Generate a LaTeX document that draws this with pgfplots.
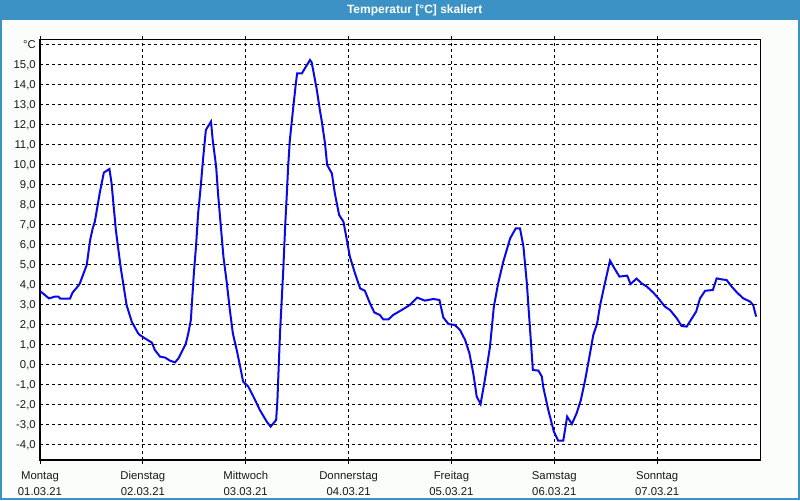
\documentclass[border=0pt]{standalone}
\usepackage{pgfplots}
\pgfplotsset{compat=1.18}
\usepackage{fontspec}
\setmainfont{Liberation Sans}
\definecolor{titlebar}{RGB}{60,146,196}
\definecolor{curve}{RGB}{10,10,230}
\definecolor{winbg}{RGB}{251,253,251}
\begin{document}
\begin{tikzpicture}
\useasboundingbox (0,0) rectangle (600pt,375pt);
\fill[winbg] (0,0) rectangle (600pt,360pt);
\fill[titlebar] (0,360pt) rectangle (600pt,375pt);
\draw[titlebar, line width=1.2pt] (0.6pt,360pt) -- (0.6pt,0.6pt) -- (599.4pt,0.6pt) -- (599.4pt,360pt);
\node[text=white, font=\fontsize{9}{10}\selectfont\bfseries] at (311pt,367.5pt) {Temperatur [°C] skaliert};
\begin{axis}[
  at={(30pt,30pt)}, anchor=south west,
  scale only axis, width=540pt, height=315pt,
  xmin=0, xmax=168, ymin=-4.75, ymax=16.25,
  axis line style={black, line width=0.75pt},
  axis background/.style={fill=white},
  xtick={0,24,48,72,96,120,144},
  xticklabels={{Montag\\01.03.21},{Dienstag\\02.03.21},{Mittwoch\\03.03.21},{Donnerstag\\04.03.21},{Freitag\\05.03.21},{Samstag\\06.03.21},{Sonntag\\07.03.21}},
  ytick={-4,-3,...,16},
  yticklabels={{-4,0},{-3,0},{-2,0},{-1,0},{0,0},{1,0},{2,0},{3,0},{4,0},{5,0},{6,0},{7,0},{8,0},{9,0},{10,0},{11,0},{12,0},{13,0},{14,0},{15,0},{°C}},
  tick label style={font=\fontsize{8.5}{12}\selectfont, text=black!90},
  xticklabel style={align=center, inner sep=0pt, yshift=-5.5pt},
  yticklabel style={inner sep=0pt, xshift=-3pt},
  x tick style={black, line width=0.6pt, dash pattern=on 2pt off 1.5pt},
  xtick align=outside, major tick length=3pt,
  ytick style={draw=none},
  xmajorgrids, ymajorgrids,
  major grid style={black, line width=0.75pt, dash pattern=on 2.6pt off 1.9pt},
  clip=true,
]
\addplot[curve, line width=1.5pt] coordinates {
(0,3.70) (2.1,3.33) (3.5,3.42) (4.3,3.42) (4.7,3.32) (7.0,3.32) (7.6,3.62) (8.9,3.95) (9.3,4.08)
(10.9,5.00) (11.7,6.25) (12.3,6.83) (12.8,7.17) (14.0,8.67) (14.9,9.62) (16.2,9.80) (16.7,9.08)
(17.7,6.75) (18.3,5.75) (18.8,4.92) (20.2,3.00) (21.4,2.17) (22.9,1.58) (23.3,1.50) (24.5,1.33)
(26.1,1.12) (26.8,0.75) (28.0,0.42) (29.2,0.37) (30.3,0.22) (31.5,0.13) (32.3,0.33) (33.1,0.67)
(34.0,1.05) (34.6,1.58) (35.2,2.25) (35.4,2.92) (35.9,4.58) (36.4,5.92) (36.9,7.58) (37.5,8.92)
(38.1,10.42) (38.7,11.75) (39.9,12.17) (40.3,11.25) (41.1,9.92) (41.6,8.42) (42.2,6.92) (42.8,5.42)
(43.6,4.08) (44.3,2.75) (45.0,1.58) (45.9,0.75) (46.7,-0.08) (47.4,-0.83) (48.6,-1.08) (49.8,-1.58)
(51.3,-2.25) (52.9,-2.83) (53.8,-3.08) (55.1,-2.75) (55.4,-1.75) (55.7,-0.08) (56.0,1.58) (56.4,3.25)
(56.8,4.92) (57.2,6.92) (57.6,8.58) (57.9,9.92) (58.3,11.25) (59.1,12.90) (59.7,14.08) (60.0,14.58)
(61.1,14.58) (61.8,14.83) (63.0,15.25) (63.4,15.12) (63.8,14.67) (64.6,13.75) (65.3,12.75) (65.7,12.25)
(66.5,11.08) (67.0,10.00) (68.1,9.58) (68.8,8.58) (69.8,7.50) (70.8,7.17) (71.6,6.25) (72.3,5.42)
(73.5,4.58) (74.7,3.83) (75.8,3.71) (77.0,3.08) (78.0,2.63) (79.3,2.50) (80.1,2.28) (81.3,2.28)
(82.4,2.50) (84.4,2.75) (86.3,3.00) (88.0,3.37) (89.8,3.22) (91.8,3.30) (93.2,3.25) (94.1,2.38)
(95.3,2.05) (96.8,2.00) (98.0,1.75) (99.2,1.25) (100.2,0.58) (101.1,-0.42) (101.9,-1.58) (102.8,-1.95)
(103.8,-0.75) (105.0,0.92) (105.9,2.92) (106.9,4.08) (108.1,5.17) (109.7,6.33) (111.0,6.83) (112.0,6.83)
(112.8,5.92) (113.6,4.08) (114.3,1.92) (115.0,-0.25) (116.3,-0.28) (117.1,-0.58) (117.4,-1.08) (118.6,-2.25)
(119.9,-3.33) (120.9,-3.78) (122.1,-3.78) (123.0,-2.58) (124.1,-2.95) (125.2,-2.42) (126.2,-1.75) (127.2,-0.75)
(128.2,0.42) (129.1,1.50) (130.0,2.08) (130.7,3.00) (131.8,4.08) (133.0,5.22) (133.9,4.88) (135.2,4.42)
(137.0,4.47) (137.8,4.05) (139.2,4.32) (140.4,4.08) (141.6,3.92) (143.1,3.62) (144.3,3.33) (145.8,2.92)
(147.0,2.75) (148.6,2.33) (149.7,1.95) (150.9,1.92) (152.1,2.33) (153.1,2.67) (154.0,3.33) (155.2,3.71)
(157.0,3.75) (157.9,4.33) (159.1,4.28) (160.2,4.25) (161.4,3.92) (162.6,3.63) (164.1,3.33) (165.7,3.17)
(166.4,3.00) (167.1,2.42)
};
\end{axis}
\end{tikzpicture}
\end{document}
